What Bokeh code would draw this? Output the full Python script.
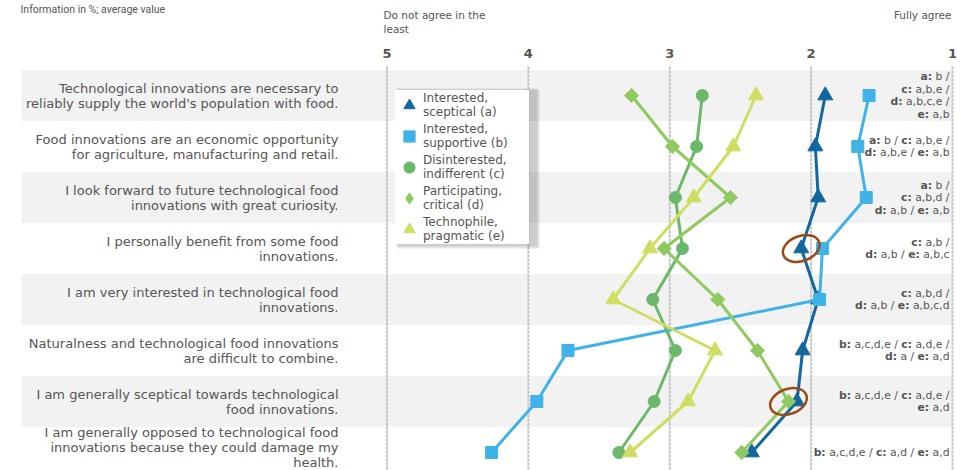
import re
import math
from bokeh.plotting import figure
from bokeh.models import Range1d, Legend, LegendItem, ColumnDataSource
from bokeh.embed import file_html
from bokeh.resources import INLINE
from bokeh.core.properties import value

# ---------------- data ----------------
statements = [
    "Technological innovations are necessary to\nreliably supply the world's population with food.",
    "Food innovations are an economic opportunity\nfor agriculture, manufacturing and retail.",
    "I look forward to future technological food\ninnovations with great curiosity.",
    "I personally benefit from some food\ninnovations.",
    "I am very interested in technological food\ninnovations.",
    "Naturalness and technological food innovations\nare difficult to combine.",
    "I am generally sceptical towards technological\nfood innovations.",
    "I am generally opposed to technological food\ninnovations because they could damage my\nhealth.",
]
rows = list(range(len(statements)))

scale_ticks = [5, 4, 3, 2, 1]
scale_tick_labels = ["5", "4", "3", "2", "1"]

group_names = [
    "Interested,\nsceptical (a)",
    "Interested,\nsupportive (b)",
    "Disinterested,\nindifferent (c)",
    "Participating,\ncritical (d)",
    "Technophile,\npragmatic (e)",
]
interested_sceptical = [1.90, 1.97, 1.95, 2.07, 1.95, 2.06, 2.10, 2.42]
interested_supportive = [1.59, 1.67, 1.61, 1.92, 1.94, 3.72, 3.94, 4.26]
disinterested_indifferent = [2.77, 2.81, 2.96, 2.91, 3.12, 2.96, 3.11, 3.36]
participating_critical = [3.27, 2.98, 2.57, 3.04, 2.66, 2.38, 2.16, 2.49]
technophile_pragmatic = [2.39, 2.55, 2.83, 3.14, 3.40, 2.68, 2.87, 3.28]

significance = [
    ["a: b /", "c: a,b,e /", "d: a,b,c,e /", "e: a,b"],
    ["a: b / c: a,b,e /", "d: a,b,e / e: a,b"],
    ["a: b /", "c: a,b,d /", "d: a,b / e: a,b"],
    ["c: a,b /", "d: a,b / e: a,b,c"],
    ["c: a,b,d /", "d: a,b / e: a,b,c,d"],
    ["b: a,c,d,e / c: a,d,e /", "d: a / e: a,d"],
    ["b: a,c,d,e / c: a,d,e /", "e: a,d"],
    ["b: a,c,d,e / c: a,d / e: a,d"],
]

header_note = "Information in %; average value"
left_end_label = "Do not agree in the\nleast"
right_end_label = "Fully agree"

# ---------------- layout helpers ----------------
W, H = 969, 470
PX5, UNIT = 386.5, 141.375      # pixel of scale value 5, pixels per scale unit
ROW0, ROWH = 95.0, 51.0         # pixel centre of first row, row pitch
GRID_TOP = 66

def px2x(px):
    return 5 - (px - PX5) / UNIT

def py2y(py):
    return (py - ROW0) / ROWH

TEXT = "#555555"
FONT = "DejaVu Sans"

p = figure(width=W, height=H,
           x_range=Range1d(px2x(0), px2x(W)),
           y_range=Range1d(py2y(H), py2y(0)),
           output_backend="svg", toolbar_location=None,
           x_axis_location=None, y_axis_location=None,
           min_border=0)
p.outline_line_color = None
p.background_fill_color = "white"
p.border_fill_color = "white"
p.grid.visible = False

# alternating row bands
band_rows = [r for r in rows if r % 2 == 0]
p.hbar(y=band_rows, left=px2x(21), right=1, height=1,
       fill_color="#f2f2f2", line_color=None)

# scale grid lines and scale numbers
p.segment(x0=scale_ticks, x1=scale_ticks, y0=py2y(GRID_TOP), y1=py2y(H),
          line_color="#c2c2c2", line_width=2, line_dash="3 1")
p.text(x=scale_ticks, y=py2y(53), text=scale_tick_labels, text_align="center",
       text_baseline="middle", text_font=value(FONT), text_font_size="13px",
       text_font_style="bold", text_color=TEXT)

# header texts
p.text(x=[px2x(20)], y=[py2y(2)], text=[header_note], text_align="left",
       text_baseline="top", text_font=value("Roboto"), text_font_size="10.5px",
       text_color=TEXT)
p.text(x=[px2x(383)], y=[py2y(8)], text=[left_end_label], text_align="left",
       text_baseline="top", text_font=value(FONT), text_font_size="10.5px",
       text_color=TEXT, text_line_height=1.2)
p.text(x=[px2x(951)], y=[py2y(8)], text=[right_end_label], text_align="right",
       text_baseline="top", text_font=value(FONT), text_font_size="10.5px",
       text_color=TEXT)

# statements (three-line label nudged up so it stays inside the picture)
stmt_src = ColumnDataSource(dict(
    y=rows, text=statements,
    yo=[-5 if s.count("\n") >= 2 else 0 for s in statements]))
p.text(x=px2x(338), y="y", text="text", y_offset="yo", source=stmt_src,
       text_align="right", text_baseline="middle",
       text_font=value(FONT), text_font_size="13px", text_color=TEXT,
       text_line_height=1.0)

# series
series = [
    (group_names[0], interested_sceptical, "#12679e", "triangle", 15, 0.0),
    (group_names[1], interested_supportive, "#3fb3e8", "square", 12, 0.0),
    (group_names[2], disinterested_indifferent, "#6bb86b", "circle", 12, 0.0),
    (group_names[3], participating_critical, "#8fca60", "diamond", 12, 0.0),
    (group_names[4], technophile_pragmatic, "#cfde62", "triangle", 15, 0.0),
]
legend_items = []
for name, vals, color, marker, size, ang in series:
    p.line(vals, rows, line_color=color, line_width=3)
    key = p.scatter(vals, rows, marker=marker, size=size, angle=ang,
                    fill_color=color, line_color=color)
    if marker == "diamond":
        # square-shaped diamond drawn over the (narrower) legend key marker
        p.scatter(vals, rows, marker="square", size=10, angle=math.pi / 4,
                  fill_color=color, line_color=color)
    legend_items.append(LegendItem(label=name, renderers=[key]))

# highlighted points
p.ellipse(x=[interested_sceptical[3], participating_critical[6]], y=[rows[3], rows[6]],
          width=38, height=25, width_units="screen", height_units="screen",
          angle=0.35, fill_color=None, line_color="#9c4a13", line_width=2.5)

# legend shadow
p.quad(left=[px2x(397)], right=[px2x(539)], top=[py2y(89)], bottom=[py2y(248)],
       fill_color="#000000", fill_alpha=0.10, line_color=None)
p.quad(left=[px2x(396)], right=[px2x(537)], top=[py2y(88)], bottom=[py2y(246)],
       fill_color="#000000", fill_alpha=0.10, line_color=None)

legend = Legend(items=legend_items, location=(395, H - 244),
                orientation="vertical",
                background_fill_color="white", background_fill_alpha=1.0,
                border_line_color=None, padding=3, spacing=1, margin=0,
                glyph_width=28, glyph_height=30, label_standoff=0,
                label_width=106, label_height=22,
                label_text_font=FONT, label_text_font_size="12px",
                label_text_color=TEXT, label_text_line_height=0.95)
p.add_layout(legend)

# significance notes (bold group letters + regular lists), right aligned
REG = {'a': 1255, 'b': 1300, 'c': 1126, 'd': 1300, 'e': 1260, ',': 651, ' ': 651, '/': 690, ':': 690}
BLD = {'a': 1382, 'b': 1466, 'c': 1214, 'd': 1466, 'e': 1389, ':': 817, ' ': 713}
FS = 10.8
LINE = 12.5

def note_segments(line):
    flags = [False] * len(line)
    for m in re.finditer(r"[a-e]:", line):
        for k in range(m.start(), m.end()):
            flags[k] = True
    widths = [(BLD if f else REG).get(ch, 1200) / 2048 * FS for ch, f in zip(line, flags)]
    segs = []
    i = 0
    while i < len(line):
        j = i
        while j < len(line) and flags[j] == flags[i]:
            j += 1
        txt = line[i:j]
        stripped = txt.rstrip()
        if stripped.strip():
            end = i + len(stripped)
            segs.append((stripped.lstrip(), flags[i], -sum(widths[end:])))
        i = j
    return segs

bold_src = dict(y=[], text=[], xo=[], yo=[])
reg_src = dict(y=[], text=[], xo=[], yo=[])
for r, lines in zip(rows, significance):
    n = len(lines)
    for k, line in enumerate(lines):
        yo = (k - (n - 1) / 2) * LINE
        for txt, is_bold, xo in note_segments(line):
            d = bold_src if is_bold else reg_src
            d["y"].append(r)
            d["text"].append(txt)
            d["xo"].append(xo)
            d["yo"].append(yo)

for d, style in ((reg_src, "normal"), (bold_src, "bold")):
    p.text(x=px2x(949), y="y", text="text", x_offset="xo", y_offset="yo",
           source=ColumnDataSource(d), text_align="right", text_baseline="middle",
           text_font=value(FONT), text_font_size=f"{FS}px", text_font_style=style,
           text_color=TEXT)

open("out.html", "w").write(file_html(p, INLINE))
